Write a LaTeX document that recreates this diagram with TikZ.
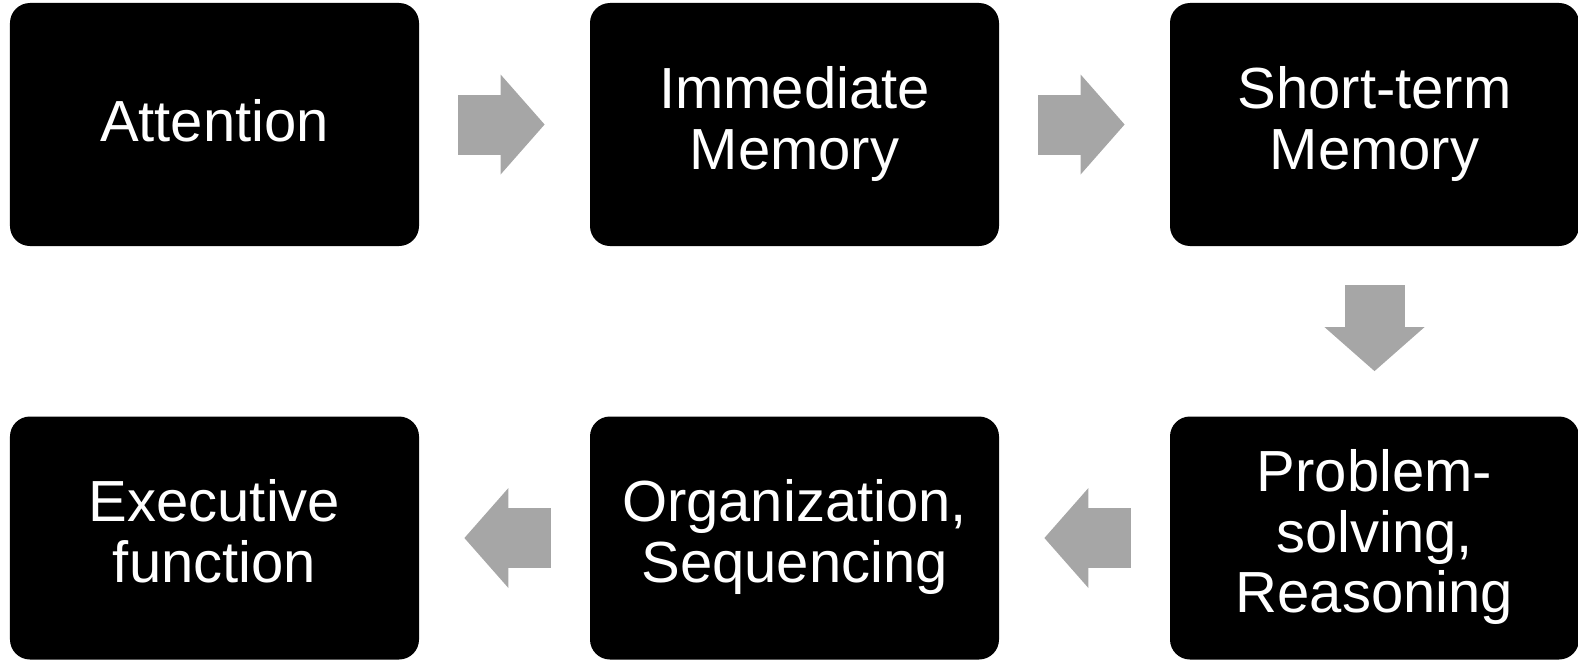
\documentclass[tikz,border=0pt]{standalone}
\usepackage{fontspec}
\setmainfont{Liberation Sans}
\usetikzlibrary{arrows.meta}
\definecolor{arrowgray}{RGB}{166,166,166}

\begin{document}
\begin{tikzpicture}[
    box/.style={fill=black, text=white, rounded corners=10pt,
      minimum width=204.5pt, minimum height=121.5pt, inner sep=0pt,
      align=center, font=\fontsize{29}{30.3}\selectfont,
      execute at begin node={\rule{0pt}{24pt}},
      execute at end node={\rule[-6.8pt]{0pt}{0pt}}},
    blockarrow/.style={draw=arrowgray, line width=30pt,
      -{Triangle[length=22pt,width=50pt,line width=0pt]},
      shorten <=19.5pt, shorten >=22.5pt}]
    \def\x{290pt}
    \def\y{-206.75pt}
    \useasboundingbox (-107.25pt,62.25pt) rectangle (681.75pt,-267.25pt);
    \node[box] (A0_0) at (0*\x, 0*\y) {Attention};
    \node[box] (A0_1) at (1*\x, 0*\y) {Immediate\\Memory};
    \node[box] (A0_2) at (2*\x, 0*\y) {Short-term\\Memory};
    \node[box] (A1_2) at (2*\x, 1*\y) {Problem-\\solving,\\Reasoning};
    \node[box] (A1_1) at (1*\x, 1*\y) {Organization,\\Sequencing};
    \node[box] (A1_0) at (0*\x, 1*\y) {Executive\\function};
    \path (A0_0) edge [blockarrow] (A0_1);
    \path (A0_1) edge [blockarrow] (A0_2);
    \path (A0_2) edge [blockarrow] (A1_2);
    \path (A1_2) edge [blockarrow] (A1_1);
    \path (A1_1) edge [blockarrow] (A1_0);
  \end{tikzpicture}
\end{document}
